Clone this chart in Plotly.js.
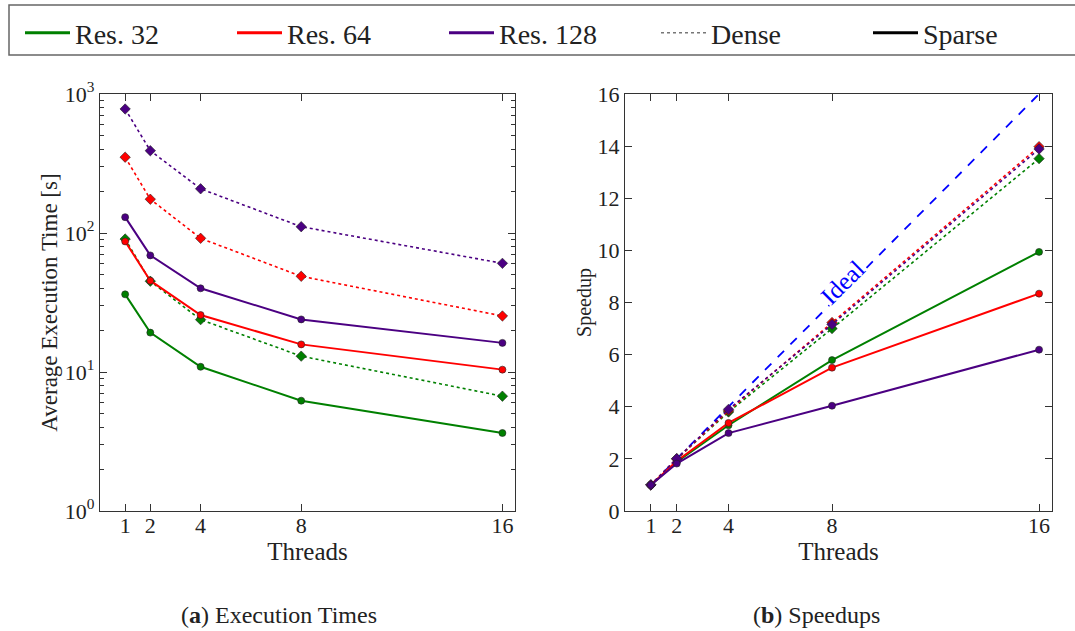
<!DOCTYPE html>
<html>
<head>
<meta charset="utf-8">
<script src="https://cdn.plot.ly/plotly-3.0.1.min.js"></script>
<style>html,body{margin:0;padding:0;background:#fff;}#chart{width:1075px;height:631px;}</style>
</head>
<body>
<div id="chart"></div>
<script>
// ---- data ----
const threads = [1, 2, 4, 8, 16];
const resolutions = ["Res. 32", "Res. 64", "Res. 128"];

const timeDense32  = [90.5, 45, 23.8, 13.0, 6.7];
const timeDense64  = [351, 175, 91.6, 48.8, 25.3];
const timeDense128 = [780, 391, 208, 111, 60.5];
const timeSparse32  = [36.2, 19.2, 10.9, 6.22, 3.64];
const timeSparse64  = [87, 45.4, 25.7, 15.8, 10.4];
const timeSparse128 = [130, 69, 40, 23.9, 16.2];

const speedDense32  = [1, 2.0, 3.8, 7.0, 13.52];
const speedDense64  = [1, 2.0, 3.85, 7.23, 13.98];
const speedDense128 = [1, 2.01, 3.9, 7.16, 13.89];
const speedSparse32  = [1, 1.88, 3.29, 5.79, 9.94];
const speedSparse64  = [1, 1.92, 3.38, 5.50, 8.34];
const speedSparse128 = [1, 1.82, 2.99, 4.04, 6.19];

const idealX = [1, 16];
const idealY = [1, 16];

const timeTicks = [1, 10, 100, 1000];
const timeTickText = ["10<sup>0</sup>", "10<sup>1</sup>", "10<sup>2</sup>", "10<sup>3</sup>"];
const speedTicks = [0, 2, 4, 6, 8, 10, 12, 14, 16];

// ---- styling ----
const colors = ["#008000", "#ff0000", "#4b0082"];
const FONT = "Liberation Serif";
const W = 1075, H = 631;

const timeDense = [timeDense32, timeDense64, timeDense128];
const timeSparse = [timeSparse32, timeSparse64, timeSparse128];
const speedDense = [speedDense32, speedDense64, speedDense128];
const speedSparse = [speedSparse32, speedSparse64, speedSparse128];

const traces = [];
// legend entries
resolutions.forEach((name, i) => {
  traces.push({x: [null], y: [null], mode: "lines", name: name,
    line: {color: colors[i], width: 3}, showlegend: true, xaxis: "x", yaxis: "y"});
});
traces.push({x: [null], y: [null], mode: "lines", name: "Dense",
  line: {color: "#777", width: 1.5, dash: "dot"}, showlegend: true, xaxis: "x", yaxis: "y"});
traces.push({x: [null], y: [null], mode: "lines", name: "Sparse",
  line: {color: "#000", width: 3}, showlegend: true, xaxis: "x", yaxis: "y"});

function add(xs, ys, i, dense, xa, ya) {
  traces.push({
    x: xs, y: ys, xaxis: xa, yaxis: ya, mode: "lines+markers", showlegend: false,
    line: {color: colors[i], width: dense ? 1.6 : 2, dash: dense ? "dot" : "solid"},
    marker: {symbol: dense ? "diamond" : "circle", size: dense ? 8 : 7, color: colors[i],
      line: {color: "#222", width: 0.6}},
    hoverinfo: "x+y"
  });
}
// ideal line
traces.push({x: idealX, y: idealY, xaxis: "x2", yaxis: "y2", mode: "lines", showlegend: false,
  line: {color: "#0000ff", width: 1.8, dash: "dash"}});

for (let i = 0; i < 3; i++) {
  add(threads, timeDense[i], i, true, "x", "y");
  add(threads, timeSparse[i], i, false, "x", "y");
  add(threads, speedDense[i], i, true, "x2", "y2");
  add(threads, speedSparse[i], i, false, "x2", "y2");
}

// minor log ticks
const minorLog = [];
for (let d = 1; d <= 100; d *= 10) for (let k = 2; k <= 9; k++) minorLog.push(k * d);

const yDom = [1 - 511 / H, 1 - 94 / H];
const axisCommon = {
  showline: true, linecolor: "#333", linewidth: 1.2, mirror: "ticks",
  ticks: "inside", ticklen: 7, tickcolor: "#333", tickwidth: 1,
  showgrid: false, zeroline: false,
  tickfont: {family: FONT, size: 22, color: "#222"}
};

const layout = {
  width: W, height: H,
  margin: {l: 0, r: 0, t: 0, b: 0, autoexpand: false},
  paper_bgcolor: "#fff", plot_bgcolor: "#fff",
  font: {family: FONT, color: "#222"},
  showlegend: true,
  legend: {
    orientation: "h", x: 20 / W, y: 1 - 8 / H, xanchor: "left", yanchor: "top",
    bgcolor: "rgba(0,0,0,0)", borderwidth: 0,
    font: {family: FONT, size: 28, color: "#222"},
    itemwidth: 45, entrywidth: 152, entrywidthmode: "pixels",
    tracegroupgap: 0
  },
  shapes: [
    {type: "rect", xref: "paper", yref: "paper", x0: 9 / W, x1: 1.02, y0: 1 - 55 / H, y1: 1 - 5 / H,
     line: {color: "#666", width: 1.5}, fillcolor: "#fff", layer: "below"}
  ],
  xaxis: Object.assign({}, axisCommon, {
    domain: [100 / W, 515 / W], range: [0, 16.5], anchor: "y",
    tickvals: threads, ticklabelstandoff: -6,
    title: {text: "Threads", font: {family: FONT, size: 25, color: "#222"}, standoff: 0}
  }),
  yaxis: Object.assign({}, axisCommon, {
    domain: yDom, type: "log", range: [0, 3], anchor: "x",
    tickvals: timeTicks, ticktext: timeTickText,
    minor: {tickvals: minorLog, ticks: "inside", ticklen: 4, tickcolor: "#333", showgrid: false},
    title: {text: "Average Execution Time [s]", font: {family: FONT, size: 23, color: "#222"}, standoff: 0}
  }),
  xaxis2: Object.assign({}, axisCommon, {
    domain: [625 / W, 1052 / W], range: [0, 16.5], anchor: "y2",
    tickvals: threads, ticklabelstandoff: -6,
    title: {text: "Threads", font: {family: FONT, size: 25, color: "#222"}, standoff: 0}
  }),
  yaxis2: Object.assign({}, axisCommon, {
    domain: yDom, range: [0, 16], anchor: "x2",
    tickvals: speedTicks,
    title: {text: "Speedup", font: {family: FONT, size: 20, color: "#222"}, standoff: 0}
  }),
  annotations: [
    {xref: "x2", yref: "y2", x: 8.42, y: 8.75, text: "Ideal", showarrow: false,
     textangle: -45, font: {family: FONT, size: 25, color: "#0000ff"}, bgcolor: "#fff",
     xanchor: "center", yanchor: "middle", borderpad: 0},
    {xref: "paper", yref: "paper", x: 279 / W, y: (H - 615) / H, text: "(<b>a</b>) Execution Times",
     showarrow: false, font: {family: FONT, size: 24, color: "#222"}, xanchor: "center", yanchor: "middle"},
    {xref: "paper", yref: "paper", x: 816 / W, y: (H - 615) / H, text: "(<b>b</b>) Speedups",
     showarrow: false, font: {family: FONT, size: 24, color: "#222"}, xanchor: "center", yanchor: "middle"}
  ]
};

Plotly.newPlot("chart", traces, layout, {displayModeBar: false, staticPlot: true});
</script>
</body>
</html>
